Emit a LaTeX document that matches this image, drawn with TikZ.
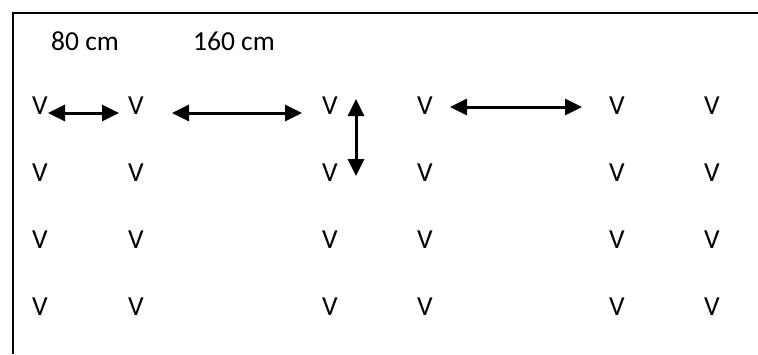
\documentclass[tikz,border=0pt]{standalone}
\usepackage{fontspec}
\setmainfont{Carlito}
\usetikzlibrary{arrows.meta}
\begin{document}
\begin{tikzpicture}[x=1pt,y=-1pt,
  post/.style={inner sep=0pt,font=\fontsize{27.5}{32}\selectfont},
  gap/.style={line width=3pt,{Triangle[length=17pt,width=16pt]}-{Triangle[length=17pt,width=16pt]}}]
\useasboundingbox (0,0) rectangle (758,354);
% frame: left side and top edge
\draw[line width=2.2pt] (13,354) -- (13,13) -- (758,13);
% spacing labels
\node[post] (l80) at (85,41) {80 cm};
\node[post] (l160) at (234,41) {160 cm};
% grid of posts
\foreach \c/\x in {1/40,2/136,3/330,4/425,5/617,6/712}
  \foreach \r/\y in {1/106,2/173,3/240,4/307}
    \node[post] (v\r\c) at (\x,\y) {V};
% dimension arrows
\coordinate (a1s) at (48,113);  \coordinate (a1e) at (119,113);
\coordinate (a2s) at (172,113); \coordinate (a2e) at (302,113);
\coordinate (a3s) at (450,107); \coordinate (a3e) at (582,107);
\coordinate (a4s) at (356,99); \coordinate (a4e) at (356,176);
\draw[gap] (a1s) -- (a1e);
\draw[gap] (a2s) -- (a2e);
\draw[gap] (a3s) -- (a3e);
\draw[gap] (a4s) -- (a4e);
\end{tikzpicture}
\end{document}
